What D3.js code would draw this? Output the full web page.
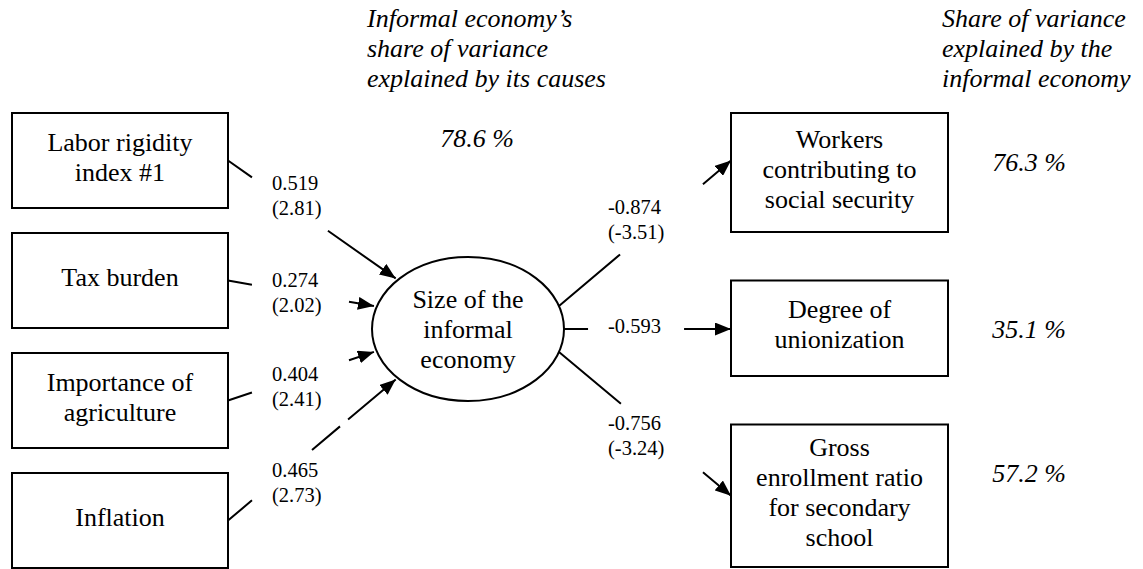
<!DOCTYPE html>
<html>
<head>
<meta charset="utf-8">
<script src="https://cdn.jsdelivr.net/npm/d3@7"></script>
</head>
<body style="margin:0">
<script>
// causes of the informal economy (left column)
const causeLabels = [["Labor rigidity", "index #1"], ["Tax burden"], ["Importance of", "agriculture"], ["Inflation"]];
const causeCoef = [0.519, 0.274, 0.404, 0.465];
const causeT = [2.81, 2.02, 2.41, 2.73];

// indicators (right column)
const indLabels = [["Workers", "contributing to", "social security"], ["Degree of", "unionization"], ["Gross", "enrollment ratio", "for secondary", "school"]];
const indCoef = [-0.874, -0.593, -0.756];
const indT = [-3.51, null, -3.24];
const indShare = [76.3, 35.1, 57.2];

// latent variable
const latentLabel = ["Size of the", "informal", "economy"];
const latentShare = 78.6;

const headLeft = ["Informal economy\u2019s", "share of variance", "explained by its causes"];
const headRight = ["Share of variance", "explained by the", "informal economy"];

// ---- layout (not data) ----
const W = 1143, H = 569;
const lineH = 30;
const serif = "Liberation Serif";
const leftX = [12, 228], rightX = [731, 948];
const ell = {cx: 468, cy: 329, rx: 96, ry: 72};

// where each arrow meets the ellipse (degrees) and where the line is broken for the label
const inPort = [-137, -162, 162, 137];
const inGaps = [[[0.143, 0.596]], [[0.164, 0.829]], [[0.164, 0.829]], [[0.143, 0.501], [0.668, 0.716]]];
const inLabelY = [190, 287, 381, 477];
const outPort = [-18.6, 0, 18.6];
const outTo = [0.40, 0.508, 0.50];
const outGaps = [[[0.355, 0.837]], [[0.144, 0.719]], [[0.36, 0.837]]];
const outLabelY = [214, 333, 430];
const shareY = [171, 338, 482];

const svg = d3.select("body").append("svg")
    .attr("width", W).attr("height", H)
    .style("display", "block");

svg.append("rect").attr("width", W).attr("height", H).attr("fill", "#fff");

svg.append("defs").append("marker")
    .attr("id", "arrow")
    .attr("markerUnits", "userSpaceOnUse")
    .attr("markerWidth", 17).attr("markerHeight", 13)
    .attr("refX", 16).attr("refY", 6.5)
    .attr("orient", "auto")
    .append("path")
    .attr("d", "M0,0 L16,6.5 L0,13 Z")
    .attr("fill", "#000");

// left boxes on a band scale
const yLeft = d3.scaleBand()
    .domain(d3.range(causeLabels.length))
    .range([113, 568])
    .paddingInner(25 / 120)
    .paddingOuter(0);

// right boxes: height follows the number of text lines
const boxH = n => 48.5 + 23.5 * n;
let acc = 113;
const rightBoxes = indLabels.map(lines => {
    const b = {y: acc, h: boxH(lines.length)};
    acc += b.h + 48.5;
    return b;
});

const ellPt = (deg, r = 1) => {
    const a = deg * Math.PI / 180;
    return [ell.cx + ell.rx * r * Math.cos(a), ell.cy + ell.ry * r * Math.sin(a)];
};

// build a path made of the visible pieces of a straight edge
const lerp = (a, b, t) => [a[0] + (b[0] - a[0]) * t, a[1] + (b[1] - a[1]) * t];
const brokenPath = (a, b, gaps) => {
    const cuts = [0];
    gaps.forEach(g => { cuts.push(g[0], g[1]); });
    cuts.push(1);
    const p = d3.path();
    for (let i = 0; i < cuts.length; i += 2) {
        const s = lerp(a, b, cuts[i]), e = lerp(a, b, cuts[i + 1]);
        p.moveTo(s[0], s[1]);
        p.lineTo(e[0], e[1]);
    }
    return p.toString();
};

const boxStyle = sel => sel.attr("fill", "#fff").attr("stroke", "#000").attr("stroke-width", 2);

// one <text> per line, no tspans
const label = (sel, str, x, y, size, italic, anchor) => sel.append("text")
    .attr("x", x).attr("y", y)
    .attr("font-family", serif)
    .attr("font-size", size)
    .attr("font-style", italic ? "italic" : null)
    .attr("text-anchor", anchor || "start")
    .text(str);

const writeLines = (sel, lines, cx, midBaseline) => {
    lines.forEach((l, i) => {
        label(sel, l, cx, midBaseline + (i - (lines.length - 1) / 2) * lineH, 26, false, "middle");
    });
};

// edges: causes -> latent
const inEdges = causeLabels.map((d, i) => {
    const from = [leftX[1], yLeft(i) + yLeft.bandwidth() / 2];
    const to = ellPt(inPort[i], 1.03);
    return {from, to, gaps: inGaps[i]};
});
// edges: latent -> indicators
const outEdges = indLabels.map((d, i) => {
    const from = ellPt(outPort[i]);
    const to = [rightX[0], rightBoxes[i].y + rightBoxes[i].h * outTo[i]];
    return {from, to, gaps: outGaps[i]};
});

svg.append("g").selectAll("path")
    .data(inEdges.concat(outEdges))
    .join("path")
    .attr("fill", "none").attr("stroke", "#000").attr("stroke-width", 2)
    .attr("d", d => brokenPath(d.from, d.to, d.gaps))
    .attr("marker-end", "url(#arrow)");

// left boxes
const lg = svg.append("g");
causeLabels.forEach((lines, i) => {
    lg.append("rect").call(boxStyle)
        .attr("x", leftX[0]).attr("y", yLeft(i))
        .attr("width", leftX[1] - leftX[0]).attr("height", yLeft.bandwidth());
    writeLines(lg, lines, (leftX[0] + leftX[1]) / 2, yLeft(i) + yLeft.bandwidth() / 2 + 5);
    label(lg, causeCoef[i].toFixed(3), leftX[1] + 44, inLabelY[i], 20.5);
    label(lg, "(" + causeT[i].toFixed(2) + ")", leftX[1] + 44, inLabelY[i] + 25, 20.5);
});

// latent ellipse
svg.append("ellipse").call(boxStyle)
    .attr("cx", ell.cx).attr("cy", ell.cy).attr("rx", ell.rx).attr("ry", ell.ry);
writeLines(svg, latentLabel, ell.cx, ell.cy + 9);

// right boxes
const rg = svg.append("g");
indLabels.forEach((lines, i) => {
    const b = rightBoxes[i];
    rg.append("rect").call(boxStyle)
        .attr("x", rightX[0]).attr("y", b.y)
        .attr("width", rightX[1] - rightX[0]).attr("height", b.h);
    writeLines(rg, lines, (rightX[0] + rightX[1]) / 2, b.y + b.h / 2 + 5);
    label(rg, indCoef[i].toFixed(3), ell.cx + ell.rx + 44, outLabelY[i], 20.5);
    if (indT[i] !== null) {
        label(rg, "(" + indT[i].toFixed(2) + ")", ell.cx + ell.rx + 44, outLabelY[i] + 25, 20.5);
    }
    label(rg, indShare[i].toFixed(1) + " %", 1029, shareY[i], 26, true, "middle");
});

// headers
headLeft.forEach((l, i) => label(svg, l, 367, 27 + i * lineH, 26, true));
label(svg, latentShare.toFixed(1) + " %", 477, 147, 26, true, "middle");
headRight.forEach((l, i) => label(svg, l, 942, 27 + i * lineH, 26, true));
</script>
</body>
</html>
